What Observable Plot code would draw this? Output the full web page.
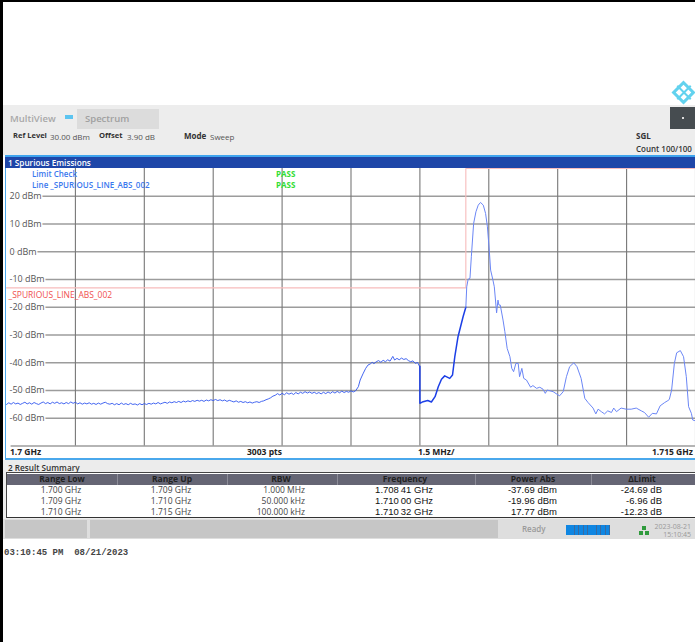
<!DOCTYPE html>
<html><head><meta charset="utf-8">
<script src="https://cdn.jsdelivr.net/npm/d3@7"></script>
<script src="https://cdn.jsdelivr.net/npm/@observablehq/plot@0.6"></script>
<style>
html,body{margin:0;padding:0;background:#fff;overflow:hidden;width:695px;height:642px;font-family:"Open Sans",sans-serif}
#page{position:relative;width:695px;height:642px;overflow:hidden}
.b{position:absolute}
.t{position:absolute;white-space:nowrap;line-height:1;transform:translateY(-50%)}
#chart{position:absolute;left:6px;top:168px}
#chart svg{display:block;overflow:visible}
</style></head><body><div id="page"></div>
<script>
// Sweep 1: 1.700 - 1.709 GHz, frequency in MHz, power in dBm
const freq1 = [
1700.00,1700.05,1700.10,1700.15,1700.20,1700.25,1700.30,1700.35,1700.40,1700.45,1700.50,1700.55,1700.60,1700.65,1700.70,1700.75,1700.80,1700.85,1700.90,1700.95,
1701.00,1701.05,1701.10,1701.15,1701.20,1701.25,1701.30,1701.35,1701.40,1701.45,1701.50,1701.55,1701.60,1701.65,1701.70,1701.75,1701.80,1701.85,1701.90,1701.95,
1702.00,1702.05,1702.10,1702.15,1702.20,1702.25,1702.30,1702.35,1702.40,1702.45,1702.50,1702.55,1702.60,1702.65,1702.70,1702.75,1702.80,1702.85,1702.90,1702.95,
1703.00,1703.05,1703.10,1703.15,1703.20,1703.25,1703.30,1703.35,1703.40,1703.45,1703.50,1703.55,1703.60,1703.65,1703.70,1703.75,1703.80,1703.85,1703.90,1703.95,
1704.00,1704.05,1704.10,1704.15,1704.20,1704.25,1704.30,1704.35,1704.40,1704.45,1704.50,1704.55,1704.60,1704.65,1704.70,1704.75,1704.80,1704.85,1704.90,1704.95,
1705.00,1705.05,1705.10,1705.15,1705.20,1705.25,1705.30,1705.35,1705.40,1705.45,1705.50,1705.55,1705.60,1705.65,1705.70,1705.75,1705.80,1705.85,1705.90,1705.95,
1706.00,1706.05,1706.10,1706.15,1706.20,1706.25,1706.30,1706.35,1706.40,1706.45,1706.50,1706.55,1706.60,1706.65,1706.70,1706.75,1706.80,1706.85,1706.90,1706.95,
1707.00,1707.05,1707.10,1707.15,1707.20,1707.25,1707.30,1707.35,1707.40,1707.45,1707.50,1707.55,1707.60,
1707.66,1707.70,1707.76,1707.82,1707.87,1707.92,1707.96,1708.00,1708.05,1708.10,1708.15,1708.20,1708.25,1708.30,1708.35,1708.41,1708.45,1708.50,1708.55,1708.60,1708.65,1708.70,1708.75,1708.80,1708.85,1708.90,1708.95,1708.99];
const power1 = [
-55.0,-54.4,-54.9,-54.3,-54.8,-54.5,-55.0,-54.6,-54.2,-54.8,-54.4,-54.9,-54.3,-54.7,-55.0,-54.5,-54.1,-54.7,-54.3,-54.8,
-54.2,-54.6,-54.1,-54.7,-54.4,-54.8,-54.3,-54.7,-54.1,-54.6,-54.2,-54.8,-54.4,-54.9,-54.5,-54.8,-54.4,-54.9,-54.6,-55.0,
-54.5,-54.9,-54.5,-54.2,-54.7,-54.9,-54.6,-55.1,-54.7,-55.1,-54.5,-55.0,-54.7,-55.1,-54.6,-55.0,-54.8,-55.2,-54.7,-55.1,
-54.7,-55.0,-54.6,-54.9,-54.5,-54.8,-54.3,-54.8,-54.5,-54.2,-54.6,-54.1,-54.4,-54.0,-54.3,-53.9,-54.3,-53.8,-54.1,-53.7,
-54.0,-53.6,-53.9,-53.5,-53.8,-53.5,-53.9,-53.4,-53.7,-53.3,-53.6,-53.2,-53.6,-53.3,-53.7,-53.4,-53.9,-53.5,-53.8,-54.1,
-53.7,-54.2,-53.9,-54.3,-54.0,-54.4,-54.1,-54.5,-54.2,-54.0,-54.3,-53.9,-53.7,-53.3,-53.0,-52.6,-52.0,-51.7,-51.1,-51.6,
-51.0,-51.5,-50.8,-51.3,-50.9,-51.4,-50.7,-51.2,-50.6,-51.0,-50.4,-50.9,-50.5,-51.0,-50.6,-51.1,-50.7,-51.2,-50.6,-51.1,
-50.5,-51.0,-50.4,-50.9,-50.3,-50.8,-50.2,-50.7,-50.3,-50.6,-50.1,-50.5,-50.1,
-48.6,-46.2,-44.0,-42.0,-40.8,-40.4,-39.8,-40.3,-39.6,-39.2,-39.8,-39.1,-39.6,-38.9,-39.4,-37.69,-39.0,-38.4,-38.9,-38.3,-38.8,-38.5,-39.2,-39.6,-39.3,-40.2,-39.9,-41.2];
// Sweep 2: 1.709 - 1.710 GHz
const freq2 = [1709.0,1709.0,1709.07,1709.17,1709.25,1709.33,1709.40,1709.47,1709.54,1709.65,1709.71,1709.76,1709.83,1709.94,1710.0];
const power2 = [-41.2,-54.6,-54.0,-53.6,-54.1,-52.2,-48.6,-45.9,-44.7,-45.6,-44.4,-37.8,-30.6,-23.4,-19.96];
// Sweep 3: 1.710 - 1.715 GHz
const freq3 = [1710.0,1710.02,1710.05,1710.09,1710.12,1710.17,1710.22,1710.27,1710.32,1710.38,1710.43,1710.47,1710.51,1710.54,1710.59,1710.62,1710.67,1710.70,1710.72,1710.75,1710.81,1710.85,1710.90,1710.96,1711.0,1711.04,1711.09,1711.14,1711.17,1711.22,1711.26,1711.32,1711.41,1711.46,1711.54,1711.61,1711.68,1711.73,1711.77,1711.90,1712.04,1712.12,1712.19,1712.26,1712.35,1712.42,1712.51,1712.59,1712.66,1712.77,1712.83,1712.88,1712.95,1713.02,1713.09,1713.17,1713.22,1713.28,1713.38,1713.49,1713.60,1713.71,1713.82,1713.89,1713.98,1714.06,1714.15,1714.23,1714.33,1714.40,1714.43,1714.48,1714.54,1714.59,1714.67,1714.74,1714.80,1714.85,1714.91,1714.94,1714.98];
const power3 = [-19.96,-12.6,-9.9,-9.6,-1.8,10.2,14.4,16.8,17.77,16.8,13.8,9.0,0.6,-6.6,-10.2,-12.6,-22.0,-17.4,-19.2,-19.2,-24.6,-28.8,-34.8,-37.8,-42.0,-43.2,-40.2,-40.2,-45.0,-42.0,-45.6,-46.2,-48.8,-48.2,-49.2,-48.8,-49.5,-51.0,-49.8,-50.4,-51.9,-50.4,-45.0,-41.4,-40.0,-41.4,-45.6,-52.8,-54.3,-56.3,-58.4,-56.7,-57.6,-58.4,-57.3,-57.9,-56.3,-57.6,-56.3,-56.7,-56.7,-56.3,-57.3,-57.9,-59.6,-58.2,-58.4,-55.5,-54.3,-53.6,-53.2,-49.8,-40.2,-36.4,-35.6,-37.8,-45.0,-55.8,-58.2,-60.6,-60.8];
// Limit line
const limitFreq = [1700,1710,1710,1715];
const limitPower = [-13,-13,30,30];
// Grid and axis labels
const freqGrid = [1701.5,1703,1704.5,1706,1707.5,1709,1710.5,1712,1713.5,1715];
const levelTicks = [20,10,0,-10,-20,-30,-40,-50,-60];
const levelGrid = [20,10,0,-10,-20,-30,-40,-50,-60,-70];
// Result table
const colHeads = ["Range Low","Range Up","RBW","Frequency","Power Abs","\u0394Limit"];
const rangeLow = ["1.700 GHz","1.709 GHz","1.710 GHz"];
const rangeUp = ["1.709 GHz","1.710 GHz","1.715 GHz"];
const rbw = ["1.000 MHz","50.000 kHz","100.000 kHz"];
const frequency = ["1.708\u200941 GHz","1.710\u200900 GHz","1.710\u200932 GHz"];
const powerAbs = ["-37.69 dBm","-19.96 dBm","17.77 dBm"];
const deltaLimit = ["-24.69 dB","-6.96 dB","-12.23 dB"];

const page = document.getElementById("page");
function box(x,y,w,h,bg,extra){const d=document.createElement("div");d.className="b";d.style.cssText=`left:${x}px;top:${y}px;width:${w}px;height:${h}px;background:${bg};${extra||""}`;page.appendChild(d);return d;}
function txt(s,x,y,size,color,opt){opt=opt||{};const d=document.createElement("div");d.className="t";d.textContent=s;
  let tr="translateY(-50%)";if(opt.a==="m")tr+=" translateX(-50%)";if(opt.a==="e")tr+=" translateX(-100%)";
  d.style.cssText=`left:${x}px;top:${y}px;font-size:${size}px;color:${color};font-weight:${opt.w||400};transform:${tr};font-family:${opt.f||'"Open Sans",sans-serif'};z-index:5`;page.appendChild(d);return d;}

// black scan edges
box(0,0,695,1.5,"#000");box(0,0,3,642,"#000");
// logo
box(675,84,17,17,"#fff","border:3px solid #62d2ee;box-sizing:border-box;transform:rotate(45deg)");
box(682.5,83,2,19,"#62d2ee","transform:rotate(45deg)");box(682.5,83,2,19,"#62d2ee","transform:rotate(-45deg)");
// header
box(3,105,692,50,"#ededed");
txt("MultiView",10,118.5,9.5,"#a8a8a8",{w:600});
box(65,115,8,4,"#5cc4f0");
box(77,109,82,20,"#dcdcdc");
txt("Spectrum",85,118.5,9.5,"#a0a0a0",{w:600});
box(670,107,25,22,"#464c50");box(682,117,2,2,"#ddd");
txt("Ref Level",13,136,7.5,"#333",{w:700});
txt("30.00 dBm",50,136.5,8,"#555");
txt("Offset",99,136,7.6,"#333",{w:700});
txt("3.90 dB",127,136.5,8,"#555");
txt("Mode",184,136,8,"#333",{w:700});
txt("Sweep",210,136.5,8,"#555");
txt("SGL",636,136,8,"#333",{w:700});
txt("Count 100/100",636,149,8,"#333",{w:600});
// title bar
box(5,155,690,1.5,"#3fa4ee");box(5,156.5,690,12,"#1e46a8");
txt("1 Spurious Emissions",8,162.5,8.2,"#fff",{w:600});
box(5,168,1.5,291,"#4aa8ec");
// status strip
box(6,446,689,12,"#fff");box(5,458,690,1.5,"#4aa8ec");
txt("1.7 GHz",10,452,8.5,"#222",{w:700});
txt("3003 pts",247,452,8.5,"#222",{w:700});
txt("1.5 MHz/",418,452,8.5,"#222",{w:700});
txt("1.715 GHz",652,452,8.5,"#222",{w:700});
// summary
box(3,459.5,692,60,"#ececec");
txt("2 Result Summary",8,467.5,8.2,"#333",{w:600});
box(6,472,689,46,"#fff","box-sizing:border-box;border-top:1.5px solid #444;border-bottom:1.5px solid #333;border-left:1px solid #444");
box(7,473.5,688,11,"#656574");
[117,227,337,475,591].forEach(x=>box(x,473.5,1,11,"#8c8c98"));
const headX=[62,172,281,405,533,642];
colHeads.forEach((h,i)=>txt(h,headX[i],479,8.5,"#222",{a:"m",w:700}));
const rowY=[490,501,512];
const valueFont='"Liberation Sans",sans-serif';
rowY.forEach((y,i)=>{
  txt(rangeLow[i],61,y,8.5,"#444",{a:"m"});
  txt(rangeUp[i],171,y,8.5,"#444",{a:"m"});
  txt(rbw[i],305,y,8.5,"#444",{a:"e"});
  txt(frequency[i],433,y,9.5,"#111",{a:"e",f:valueFont});
  txt(powerAbs[i],557,y,9.5,"#111",{a:"e",f:valueFont});
  txt(deltaLimit[i],662,y,9.5,"#111",{a:"e",f:valueFont});
});
// bottom bar
box(3,519,692,20,"#dedede");
box(5,520,82,18,"#c6c6c6");box(90,520,408,18,"#c6c6c6");
txt("Ready",522,529,8,"#9a9a9a",{w:600});
box(566,525,44,10,"repeating-linear-gradient(90deg,#0f86e2 0 3.6px,#3a6aa0 3.6px 4.4px)");
[[642,526],[639,531],[645,531]].forEach(p=>box(p[0],p[1],3.5,3.5,"#2f9a3c"));
txt("2023-08-21",691,526,7,"#9a9a9a",{a:"e"});
txt("15:10:45",691,534,7,"#9a9a9a",{a:"e"});
// timestamp
txt("03:10:45 PM  08/21/2023",4,552.5,9,"#444",{w:700,f:'"Liberation Mono",monospace'}).style.whiteSpace="pre";
// overlay labels on the plot
txt("Limit Check",32,174,8,"#3a78ee",{w:600});
txt("Line _SPURIOUS_LINE_ABS_002",32,185,8,"#3a78ee",{w:600});
txt("PASS",276,174,8,"#33dd33",{w:700});
txt("PASS",276,185,8,"#33dd33",{w:700});

const zip=(f,p)=>f.map((d,i)=>({f:d,p:p[i]}));
const plot = Plot.plot({
  width:690,height:278,margin:0,
  x:{domain:[1700,1715],axis:null},
  y:{domain:[-70,30],axis:null},
  style:{background:"#fff",fontFamily:'"Open Sans",sans-serif',overflow:"visible"},
  marks:[
    Plot.ruleY(levelGrid,{x1:1700.1,x2:1715,y:d=>d,stroke:"#9c9c9c",strokeWidth:1.5}),
    Plot.ruleX(freqGrid,{x:d=>d,y1:-70,y2:30,stroke:"#777",strokeWidth:1.1}),
    Plot.line(zip(limitFreq,limitPower),{x:"f",y:"p",stroke:"#f7bcbc",strokeWidth:1.1}),
    Plot.text(levelTicks,{x:1700,y:d=>d,text:d=>d+" dBm",textAnchor:"start",dx:3,fontSize:9,fill:"#555",stroke:"#fff",strokeWidth:3,paintOrder:"stroke"}),
    Plot.text(["_SPURIOUS_LINE_ABS_002"],{x:1700,y:-15.5,text:d=>d,textAnchor:"start",dx:2,fontSize:8.5,fill:"#f05050"}),
    Plot.line(zip(freq1,power1),{x:"f",y:"p",stroke:"#2f55ee",strokeWidth:0.9}),
    Plot.line(zip(freq2,power2),{x:"f",y:"p",stroke:"#1c3fe6",strokeWidth:1.5}),
    Plot.line(zip(freq3,power3),{x:"f",y:"p",stroke:"#6a86f5",strokeWidth:1})
  ]
});
const wrap=document.createElement("div");wrap.id="chart";wrap.appendChild(plot);page.appendChild(wrap);
</script></body></html>
